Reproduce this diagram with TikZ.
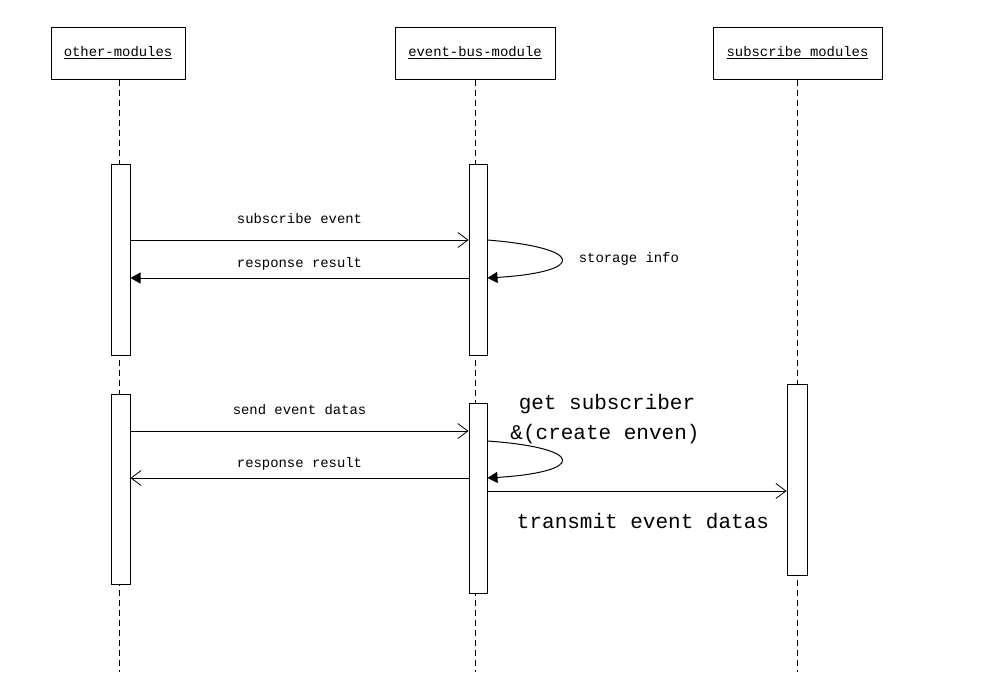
\documentclass[tikz,border=0pt]{standalone}
\usepackage{fontspec}
\setmainfont{Liberation Mono}
\usetikzlibrary{arrows.meta}
\begin{document}
\begin{tikzpicture}[x=1pt,y=-1pt,line width=1pt,
  head/.style={draw,minimum width=#1,minimum height=52pt,inner sep=0pt,font=\fontsize{13.9}{15}\selectfont},
  act/.style={draw,fill=white,minimum width=19pt,inner sep=0pt},
  life/.style={dashed,dash pattern=on 6pt off 4pt},
  small/.style={font=\fontsize{13.9}{15}\selectfont},
  big/.style={font=\fontsize{21}{24}\selectfont},
  openarr/.style={-{Straight Barb[length=10pt,width=15pt,line width=0.8pt]}},
  fillarr/.style={-{Triangle[length=10pt,width=11pt]}}]
\useasboundingbox (0,0) rectangle (998,672);
% heads
\node[head=134pt] (h1) at (118,53) {\underline{other-modules}};
\node[head=160pt] (h2) at (475,53) {\underline{event-bus-module}};
\node[head=169pt] (h3) at (797.5,53) {\underline{subscribe modules}};
\coordinate (e1) at (119,672);
\coordinate (e2) at (475,672);
\coordinate (e3) at (797,672);
\draw[life] (h1.south -| e1) -- (e1);
\draw[life] (h2.south -| e2) -- (e2);
\draw[life] (h3.south -| e3) -- (e3);
% activations
\node[act,minimum height=191pt] (a1) at (120.5,259.5) {};
\node[act,minimum height=190pt] (a2) at (120.5,489) {};
\node[act,minimum width=18pt,minimum height=191pt] (b1) at (478,259.5) {};
\node[act,minimum width=18pt,minimum height=190pt] (b2) at (478,498) {};
\node[act,minimum width=20pt,minimum height=191pt] (c1) at (797,479.5) {};
% message levels
\coordinate (m1) at (0,240);
\coordinate (m2) at (0,278);
\coordinate (m3) at (0,431);
\coordinate (m4) at (0,441);
\coordinate (m5) at (0,478);
\coordinate (m6) at (0,491);
% messages
\draw[openarr] (a1.east |- m1) -- node[small,above=13pt] (t1) {subscribe event} (b1.west |- m1);
\draw[fillarr] (b1.east |- m1) .. controls (586,248) and (586,272) .. (b1.east |- m2);
\node[small,anchor=west] (t2) at (575,259) {storage info};
\draw[fillarr] (b1.west |- m2) -- node[small,above=4pt] (t3) {response result} (a1.east |- m2);
\draw[openarr] (a2.east |- m3) -- node[small,above=12pt] (t4) {send event datas} (b2.west |- m3);
\draw[fillarr] (b2.east |- m4) .. controls (586,448) and (586,472) .. (b2.east |- m5);
\node[big] (t5) at (607,404) {get subscriber};
\node[big] (t6) at (605,434) {\&(create enven)};
\draw[openarr] (b2.west |- m5) -- node[small,above=4pt] (t7) {response result} (a2.east |- m5);
\draw[openarr] (b2.east |- m6) -- (c1.west |- m6);
\node[big] (t8) at (643,521) {transmit event datas};
\end{tikzpicture}
\end{document}
